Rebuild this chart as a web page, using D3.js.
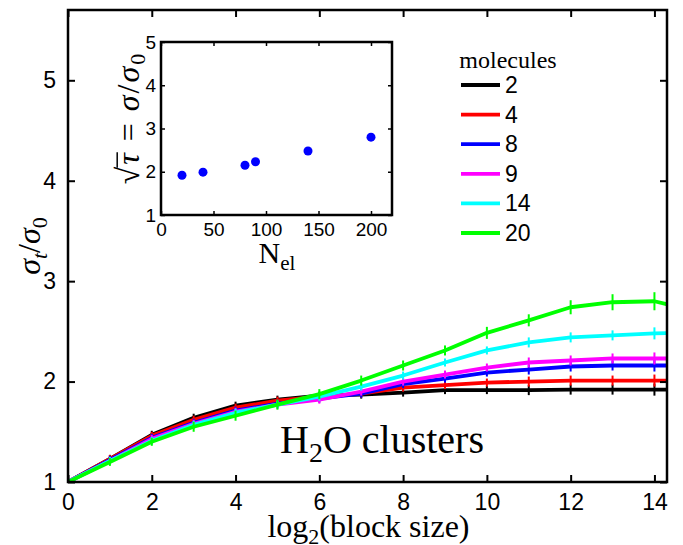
<!DOCTYPE html>
<html>
<head>
<meta charset="utf-8">
<script src="https://cdn.jsdelivr.net/npm/d3@7"></script>
<style>
  body { margin: 0; background: #fff; }
  svg { display: block; }
  .tick text { font-family: "Liberation Sans", Arial, sans-serif; fill: #000; }
  .serif { font-family: "Liberation Serif", "Times New Roman", serif; fill: #000; }
</style>
</head>
<body>
<svg id="chart"></svg>
<script>
// block size exponents (last point lies beyond the axis and gets clipped)
var blockExp = [0, 1, 2, 3, 4, 5, 6, 7, 8, 9, 10, 11, 12, 13, 14, 15]

var mol2  = [1, 1.23, 1.47, 1.64, 1.76, 1.82, 1.86, 1.87, 1.89, 1.915, 1.915, 1.915, 1.92, 1.92, 1.92, 1.92]
var mol4  = [1, 1.23, 1.46, 1.62, 1.74, 1.81, 1.85, 1.88, 1.94, 1.965, 1.99, 2.0, 2.01, 2.01, 2.01, 2.01]
var mol8  = [1, 1.22, 1.44, 1.59, 1.71, 1.78, 1.83, 1.88, 1.975, 2.03, 2.09, 2.12, 2.15, 2.16, 2.16, 2.16]
var mol9  = [1, 1.21, 1.43, 1.58, 1.70, 1.77, 1.82, 1.90, 2.0, 2.07, 2.14, 2.19, 2.21, 2.23, 2.23, 2.23]
var mol14 = [1, 1.21, 1.41, 1.57, 1.69, 1.77, 1.85, 1.95, 2.06, 2.19, 2.31, 2.39, 2.44, 2.46, 2.48, 2.49]
var mol20 = [1, 1.20, 1.40, 1.55, 1.66, 1.77, 1.875, 2.01, 2.16, 2.31, 2.485, 2.61, 2.74, 2.79, 2.80, 2.70]

// error bar half widths
var errSmall = [0, .02, .02, .02, .02, .02, .02, .02, .02, .02, .02, .03, .03, .03, .04, .05]
var errGreen = [0, .02, .02, .03, .03, .03, .03, .03, .03, .03, .04, .04, .05, .06, .07, .08]

var molecules = ["2", "4", "8", "9", "14", "20"]
var colors = ["#000000", "#ff0000", "#0000ff", "#ff00ff", "#00ffff", "#00ff00"]

// inset: electrons vs plateau value
var nEl = [20, 40, 80, 90, 140, 200]
var sqrtTau = [1.92, 1.99, 2.15, 2.23, 2.48, 2.80]

var xTicks = [0, 2, 4, 6, 8, 10, 12, 14]
var yTicks = [1, 2, 3, 4, 5]
var insetXTicks = [0, 50, 100, 150, 200]
var insetYTicks = [1, 2, 3, 4, 5]

var W = 683, H = 545
var svg = d3.select("#chart").attr("width", W).attr("height", H)

// main axes box
var box = {left: 68, right: 667, top: 10, bottom: 482}

var x = d3.scaleLinear().domain([0, 14.3]).range([box.left, box.right])
var y = d3.scaleLinear().domain([1, 5.7]).range([box.bottom, box.top])

svg.append("clipPath").attr("id", "clipMain")
    .append("rect")
    .attr("x", box.left).attr("y", box.top)
    .attr("width", box.right - box.left).attr("height", box.bottom - box.top)

var series = [mol2, mol4, mol8, mol9, mol14, mol20]

var gLines = svg.append("g").attr("clip-path", "url(#clipMain)")

var line = d3.line()
    .x((d, i) => x(blockExp[i]))
    .y(d => y(d))

series.forEach(function(vals, k) {
    var err = k == 5 ? errGreen : errSmall
    var g = gLines.append("g")
    g.append("path")
        .datum(vals)
        .attr("d", line)
        .attr("fill", "none")
        .attr("stroke", colors[k])
        .attr("stroke-width", 3.8)
        .attr("stroke-linejoin", "round")
    g.selectAll("line.err")
        .data(vals)
        .enter().append("line")
        .attr("class", "err")
        .attr("x1", (d, i) => x(blockExp[i]))
        .attr("x2", (d, i) => x(blockExp[i]))
        .attr("y1", (d, i) => y(d + err[i]) - 2)
        .attr("y2", (d, i) => y(d - err[i]) + 2)
        .attr("stroke", colors[k])
        .attr("stroke-width", 2)
})

var fmt = d3.format("d")

// axes (ticks pointing inward, mirrored on top/right)
svg.append("g")
    .attr("transform", "translate(0," + box.bottom + ")")
    .call(d3.axisBottom(x).tickValues(xTicks).tickFormat(fmt).tickSizeInner(-7).tickSizeOuter(0).tickPadding(12))
    .call(g => g.select(".domain").remove())
    .call(g => g.selectAll(".tick line").attr("stroke", "#000").attr("stroke-width", 2))
    .call(g => g.selectAll(".tick text").attr("font-size", 23))

svg.append("g")
    .attr("transform", "translate(0," + box.top + ")")
    .call(d3.axisTop(x).tickValues(xTicks).tickSizeInner(-7).tickSizeOuter(0).tickFormat(""))
    .call(g => g.select(".domain").remove())
    .call(g => g.selectAll(".tick line").attr("stroke", "#000").attr("stroke-width", 2))

svg.append("g")
    .attr("transform", "translate(" + box.left + ",0)")
    .call(d3.axisLeft(y).tickValues(yTicks).tickFormat(fmt).tickSizeInner(-7).tickSizeOuter(0).tickPadding(12))
    .call(g => g.select(".domain").remove())
    .call(g => g.selectAll(".tick line").attr("stroke", "#000").attr("stroke-width", 2))
    .call(g => g.selectAll(".tick text").attr("font-size", 23))

svg.append("g")
    .attr("transform", "translate(" + box.right + ",0)")
    .call(d3.axisRight(y).tickValues(yTicks).tickSizeInner(-7).tickSizeOuter(0).tickFormat(""))
    .call(g => g.select(".domain").remove())
    .call(g => g.selectAll(".tick line").attr("stroke", "#000").attr("stroke-width", 2))

svg.append("rect")
    .attr("x", box.left).attr("y", box.top)
    .attr("width", box.right - box.left).attr("height", box.bottom - box.top)
    .attr("fill", "none").attr("stroke", "#000").attr("stroke-width", 2.5)

// axis labels
var xl = svg.append("text").attr("class", "serif")
    .attr("x", (box.left + box.right) / 2 + 1).attr("y", 537)
    .attr("text-anchor", "middle").attr("font-size", 32)
xl.append("tspan").text("log")
xl.append("tspan").attr("font-size", 22).attr("dy", 7).text("2")
xl.append("tspan").attr("dy", -7).text("(block size)")

var yl = svg.append("text").attr("class", "serif")
    .attr("transform", "translate(40," + (box.top + box.bottom) / 2 + ") rotate(-90)")
    .attr("text-anchor", "middle").attr("font-size", 32)
yl.append("tspan").attr("font-style", "italic").text("σ")
yl.append("tspan").attr("font-style", "italic").attr("font-size", 22).attr("dy", 7).text("t")
yl.append("tspan").attr("dy", -7).text("/")
yl.append("tspan").attr("font-style", "italic").text("σ")
yl.append("tspan").attr("font-size", 22).attr("dy", 7).text("0")

var note = svg.append("text").attr("class", "serif")
    .attr("x", 382).attr("y", 453)
    .attr("text-anchor", "middle").attr("font-size", 40)
note.append("tspan").text("H")
note.append("tspan").attr("font-size", 28).attr("dy", 9).text("2")
note.append("tspan").attr("dy", -9).text("O clusters")

// legend
var leg = svg.append("g")
leg.append("text").attr("class", "serif")
    .attr("x", 508).attr("y", 68).attr("text-anchor", "middle")
    .attr("font-size", 24).text("molecules")
molecules.forEach(function(m, k) {
    var ly = 85 + k * 29.6
    leg.append("line")
        .attr("x1", 461).attr("x2", 500).attr("y1", ly).attr("y2", ly)
        .attr("stroke", colors[k]).attr("stroke-width", 3.8)
    leg.append("text")
        .attr("x", 505).attr("y", ly + 8)
        .attr("font-family", "Liberation Sans, Arial, sans-serif")
        .attr("font-size", 23).text(m)
})

// inset
var ib = {left: 161, right: 392, top: 42, bottom: 215}
var ix = d3.scaleLinear().domain([0, 220]).range([ib.left, ib.right])
var iy = d3.scaleLinear().domain([1, 5]).range([ib.bottom, ib.top])

var inset = svg.append("g")
inset.append("rect")
    .attr("x", ib.left).attr("y", ib.top)
    .attr("width", ib.right - ib.left).attr("height", ib.bottom - ib.top)
    .attr("fill", "#fff")

inset.append("g")
    .attr("transform", "translate(0," + ib.bottom + ")")
    .call(d3.axisBottom(ix).tickValues(insetXTicks).tickFormat(fmt).tickSizeInner(-4).tickSizeOuter(0).tickPadding(8))
    .call(g => g.select(".domain").remove())
    .call(g => g.selectAll(".tick line").attr("stroke", "#000").attr("stroke-width", 1.5))
    .call(g => g.selectAll(".tick text").attr("font-size", 19))

inset.append("g")
    .attr("transform", "translate(0," + ib.top + ")")
    .call(d3.axisTop(ix).tickValues(insetXTicks).tickSizeInner(-4).tickSizeOuter(0).tickFormat(""))
    .call(g => g.select(".domain").remove())
    .call(g => g.selectAll(".tick line").attr("stroke", "#000").attr("stroke-width", 1.5))

inset.append("g")
    .attr("transform", "translate(" + ib.left + ",0)")
    .call(d3.axisLeft(iy).tickValues(insetYTicks).tickFormat(fmt).tickSizeInner(-4).tickSizeOuter(0).tickPadding(5))
    .call(g => g.select(".domain").remove())
    .call(g => g.selectAll(".tick line").attr("stroke", "#000").attr("stroke-width", 1.5))
    .call(g => g.selectAll(".tick text").attr("font-size", 19))

inset.append("g")
    .attr("transform", "translate(" + ib.right + ",0)")
    .call(d3.axisRight(iy).tickValues(insetYTicks).tickSizeInner(-4).tickSizeOuter(0).tickFormat(""))
    .call(g => g.select(".domain").remove())
    .call(g => g.selectAll(".tick line").attr("stroke", "#000").attr("stroke-width", 1.5))

inset.selectAll("circle")
    .data(nEl)
    .enter().append("circle")
    .attr("cx", d => ix(d))
    .attr("cy", (d, i) => iy(sqrtTau[i]))
    .attr("r", 4.5)
    .attr("fill", "#0000ff")

inset.append("rect")
    .attr("x", ib.left).attr("y", ib.top)
    .attr("width", ib.right - ib.left).attr("height", ib.bottom - ib.top)
    .attr("fill", "none").attr("stroke", "#000").attr("stroke-width", 2.5)

var ixl = inset.append("text").attr("class", "serif")
    .attr("x", 277).attr("y", 263)
    .attr("text-anchor", "middle").attr("font-size", 30)
ixl.append("tspan").text("N")
ixl.append("tspan").attr("font-size", 21).attr("dy", 7).text("el")

// inset y label: sqrt(tau) = sigma / sigma_0, with a bar over tau
var gIyl = inset.append("g").attr("transform", "translate(139,118) rotate(-90)")
var iyl = gIyl.append("text").attr("class", "serif")
    .attr("x", 0).attr("y", 0)
    .attr("text-anchor", "middle").attr("font-size", 32)
    .attr("letter-spacing", 2)
iyl.append("tspan").text("√")
iyl.append("tspan").attr("font-style", "italic").text("τ")
iyl.append("tspan").text(" = ")
iyl.append("tspan").attr("font-style", "italic").text("σ")
iyl.append("tspan").text("/")
iyl.append("tspan").attr("font-style", "italic").text("σ")
iyl.append("tspan").attr("font-size", 22).attr("dy", 6).text("0")

var rootBox = iyl.node().getExtentOfChar(0)
var tauBox = iyl.node().getExtentOfChar(1)
gIyl.append("line")
    .attr("x1", rootBox.x + rootBox.width - 3).attr("x2", tauBox.x + tauBox.width - 1)
    .attr("y1", rootBox.y + rootBox.height * 0.2).attr("y2", rootBox.y + rootBox.height * 0.2)
    .attr("stroke", "#000").attr("stroke-width", 1.5)
</script>
</body>
</html>
